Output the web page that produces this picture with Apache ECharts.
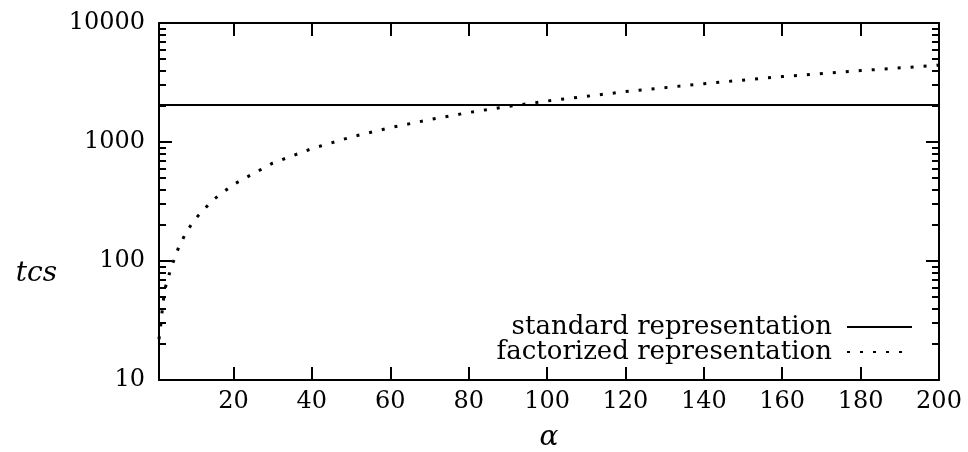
<!DOCTYPE html>
<html>
<head>
<meta charset="utf-8">
<script src="https://cdn.jsdelivr.net/npm/echarts@6/dist/echarts.min.js"></script>
<style>html,body{margin:0;padding:0;background:#fff}#c{width:968px;height:452px}</style>
</head>
<body>
<div id="c"></div>
<script>
const seriesNames = ['standard representation', 'factorized representation'];
const alphaStd = [1, 200];
const stdValues = [2048, 2048];
const alphaFact = [1, 1.5, 2, 2.5, 3, 4, 6, 8, 10, 12, 15, 20, 30, 40, 50, 60, 70, 80, 90, 100, 120, 140, 160, 180, 200];
const factValues = [22, 30, 44, 58, 66, 86, 130, 176, 220, 262, 330, 440, 665, 880, 1100, 1320, 1540, 1770, 1990, 2210, 2650, 3090, 3550, 3980, 4420];
const xTicks = [20, 40, 60, 80, 100, 120, 140, 160, 180, 200];
const yTicks = [10, 100, 1000, 10000];
const yMinorTicks = [20, 30, 40, 50, 60, 70, 80, 90, 200, 300, 400, 500, 600, 700, 800, 900, 2000, 3000, 4000, 5000, 6000, 7000, 8000, 9000];

const FONT = 'DejaVu Serif';
const zip = (xs, ys) => xs.map((x, i) => [x, ys[i]]);

const yBase = {
  type: 'log', logBase: 10, min: 10, max: 10000,
  splitLine: { show: false }, minorTick: { show: false }, minorSplitLine: { show: false }
};
const xBase = {
  type: 'value', min: 1, max: 200,
  splitLine: { show: false }, minorTick: { show: false }
};
const axLine = { show: true, lineStyle: { color: '#000', width: 2 } };

const legendText = { fontFamily: FONT, fontSize: 26, color: '#000', padding: [0, 10, 0, 0] };

const option = {
  animation: false,
  backgroundColor: '#fff',
  grid: { left: 159, right: 29, top: 23, bottom: 72, containLabel: false, outerBoundsMode: 'none' },
  xAxis: [
    Object.assign({}, xBase, {
      position: 'bottom',
      name: 'α', nameLocation: 'middle', nameGap: 44,
      nameTextStyle: { fontFamily: FONT, fontStyle: 'italic', fontSize: 28, color: '#000' },
      axisLine: axLine,
      axisTick: { show: true, inside: true, length: 13, lineStyle: { color: '#000', width: 2 }, customValues: xTicks },
      axisLabel: { show: true, customValues: xTicks, margin: 10, fontFamily: FONT, fontSize: 24, color: '#000' }
    }),
    Object.assign({}, xBase, {
      position: 'top',
      axisLine: axLine,
      axisTick: { show: true, inside: true, length: 13, lineStyle: { color: '#000', width: 2 }, customValues: xTicks },
      axisLabel: { show: false }
    })
  ],
  yAxis: [
    Object.assign({}, yBase, {
      position: 'left',
      name: '\n\n\n\n\ntcs', nameLocation: 'middle', nameGap: 102, nameRotate: 0,
      nameTextStyle: { fontFamily: FONT, fontStyle: 'italic', fontSize: 28, lineHeight: 29, color: '#000' },
      axisLine: axLine,
      axisTick: { show: true, inside: true, length: 13, lineStyle: { color: '#000', width: 2 }, customValues: yTicks },
      axisLabel: { show: true, customValues: yTicks, margin: 14, fontFamily: FONT, fontSize: 24, color: '#000', formatter: v => String(v) }
    }),
    Object.assign({}, yBase, {
      position: 'left',
      axisLine: { show: false },
      axisTick: { show: true, inside: true, length: 7, lineStyle: { color: '#000', width: 2 }, customValues: yMinorTicks },
      axisLabel: { show: false }
    }),
    Object.assign({}, yBase, {
      position: 'right',
      axisLine: axLine,
      axisTick: { show: true, inside: true, length: 13, lineStyle: { color: '#000', width: 2 }, customValues: yTicks },
      axisLabel: { show: false }
    }),
    Object.assign({}, yBase, {
      position: 'right',
      axisLine: { show: false },
      axisTick: { show: true, inside: true, length: 7, lineStyle: { color: '#000', width: 2 }, customValues: yMinorTicks },
      axisLabel: { show: false }
    })
  ],
  legend: [
    {
      data: [seriesNames[0]], right: 50, top: 309, align: 'right', orient: 'vertical',
      itemWidth: 65, itemHeight: 14, padding: 5,
      itemStyle: { opacity: 0 },
      textStyle: legendText
    },
    {
      data: [seriesNames[1]], right: 50, top: 334, align: 'right', orient: 'vertical',
      itemWidth: 65, itemHeight: 14, padding: 5,
      itemStyle: { opacity: 0 },
      textStyle: legendText
    }
  ],
  series: [
    {
      name: seriesNames[0], type: 'line', xAxisIndex: 0, yAxisIndex: 0,
      data: zip(alphaStd, stdValues), symbol: 'none', showSymbol: false,
      lineStyle: { color: '#000', width: 2, type: 'solid' }, itemStyle: { color: '#000' }
    },
    {
      name: seriesNames[1], type: 'line', xAxisIndex: 0, yAxisIndex: 0,
      data: zip(alphaFact, factValues), symbol: 'none', showSymbol: false, smooth: false,
      lineStyle: { color: '#000', width: 3, type: [3, 10], cap: 'butt' }, itemStyle: { color: '#000' }
    }
  ]
};

const chart = echarts.init(document.getElementById('c'), null, { renderer: 'canvas' });
chart.setOption(option);
</script>
</body>
</html>
